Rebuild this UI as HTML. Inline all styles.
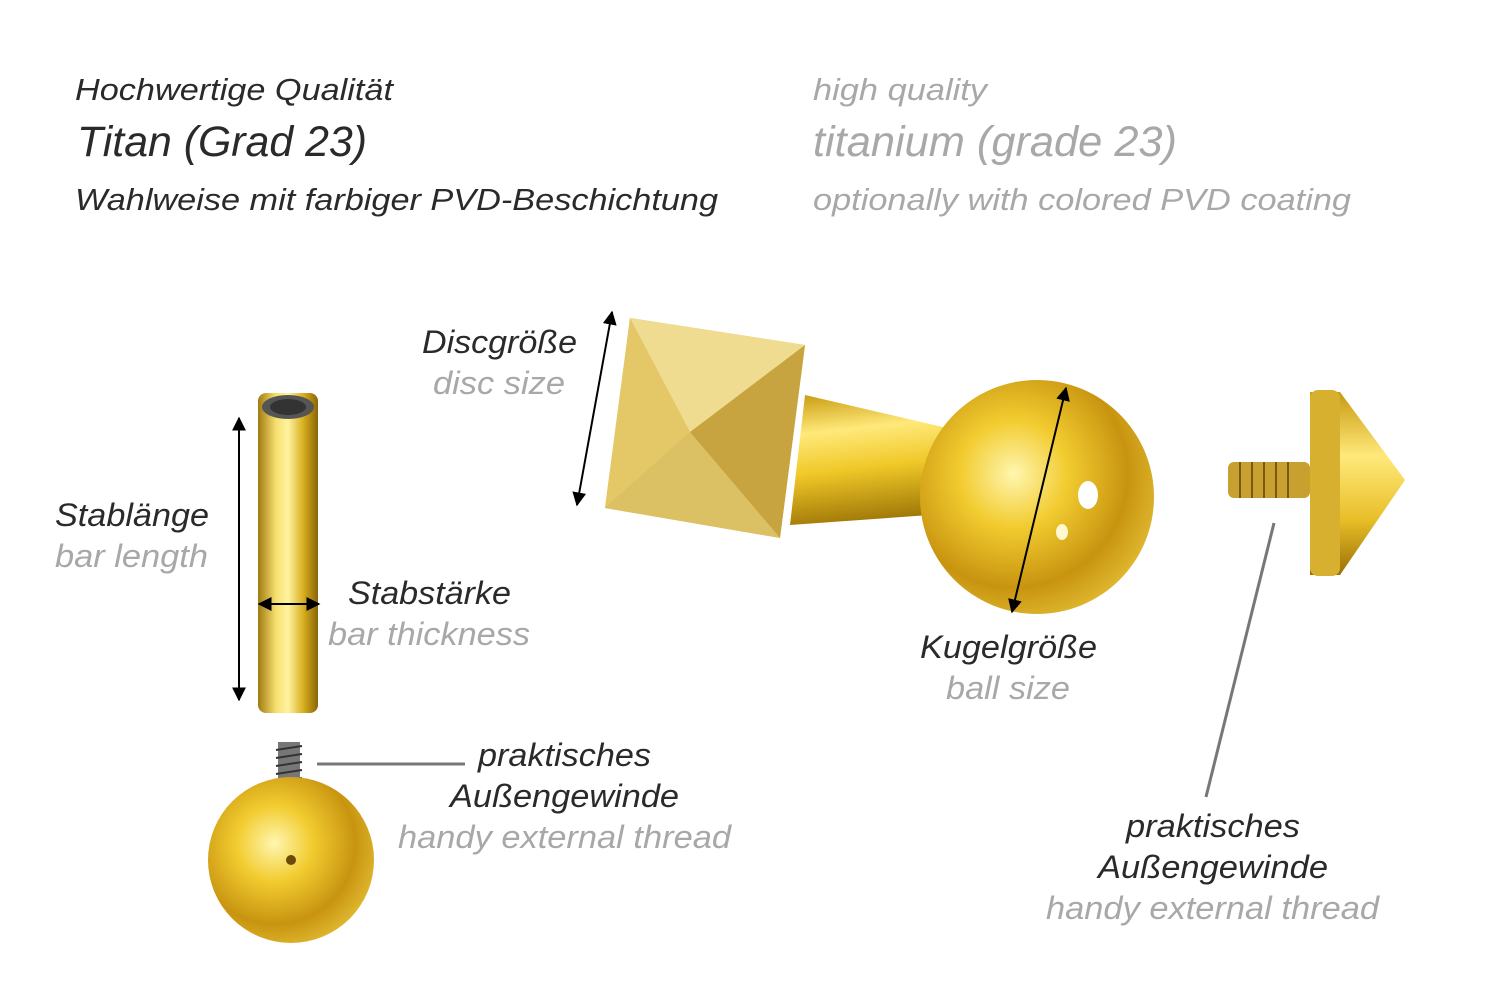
<!DOCTYPE html>
<html><head><meta charset="utf-8"><style>
html,body{margin:0;padding:0;background:#fff;width:1500px;height:1001px;overflow:hidden}
svg{display:block}
text{font-family:"Liberation Sans",sans-serif;font-style:italic}
.d{fill:#2a2a2a}.l{fill:#a8a8a8}
</style></head><body>
<svg width="1500" height="1001" viewBox="0 0 1500 1001" xmlns="http://www.w3.org/2000/svg">
<defs>
<linearGradient id="gx" x1="0" x2="1" y1="0" y2="0">
<stop offset="0" stop-color="#a07a10"/><stop offset=".3" stop-color="#f6e070"/><stop offset=".5" stop-color="#fff3a0"/><stop offset=".75" stop-color="#d9b020"/><stop offset="1" stop-color="#8a6508"/></linearGradient>
<linearGradient id="gy" x1="0" x2="0" y1="0" y2="1">
<stop offset="0" stop-color="#c89a10"/><stop offset=".35" stop-color="#ffe97a"/><stop offset=".7" stop-color="#e8be28"/><stop offset="1" stop-color="#9a7008"/></linearGradient>
<linearGradient id="gs" x1="0" x2="0.2" y1="0" y2="1">
<stop offset="0" stop-color="#c89a10"/><stop offset=".3" stop-color="#ffe97a"/><stop offset=".6" stop-color="#f0c828"/><stop offset="1" stop-color="#a07808"/></linearGradient>
<radialGradient id="gb" cx=".4" cy=".4" r=".65">
<stop offset="0" stop-color="#fff6b0"/><stop offset=".35" stop-color="#f2cc30"/><stop offset=".75" stop-color="#c89410"/><stop offset="1" stop-color="#e0b830"/></radialGradient>
<marker id="a" viewBox="0 0 10 10" refX="9" refY="5" markerWidth="7" markerHeight="7" orient="auto-start-reverse"><path d="M0,0L10,5L0,10z" fill="#000"/></marker>
</defs>

<g lengthAdjust="spacingAndGlyphs">
<text x="75" y="100" font-size="31" class="d" textLength="318" lengthAdjust="spacingAndGlyphs">Hochwertige Qualität</text>
<text x="77" y="156" font-size="43" class="d" textLength="290" lengthAdjust="spacingAndGlyphs">Titan (Grad 23)</text>
<text x="75" y="210" font-size="31" class="d" textLength="643" lengthAdjust="spacingAndGlyphs">Wahlweise mit farbiger PVD-Beschichtung</text>
<text x="813" y="100" font-size="31" class="l" textLength="174" lengthAdjust="spacingAndGlyphs">high quality</text>
<text x="813" y="156" font-size="43" class="l" textLength="364" lengthAdjust="spacingAndGlyphs">titanium (grade 23)</text>
<text x="813" y="210" font-size="31" class="l" textLength="538" lengthAdjust="spacingAndGlyphs">optionally with colored PVD coating</text>
</g>

<!-- bar -->
<rect x="258" y="393" width="60" height="320" rx="8" fill="url(#gx)"/>
<ellipse cx="288" cy="407" rx="26" ry="12" fill="#555"/>
<ellipse cx="288" cy="407" rx="18" ry="8" fill="#333"/>
<line x1="239" y1="418" x2="239" y2="700" stroke="#000" stroke-width="2" marker-start="url(#a)" marker-end="url(#a)"/>
<line x1="259" y1="604" x2="319" y2="604" stroke="#000" stroke-width="2" marker-start="url(#a)" marker-end="url(#a)"/>
<text x="55" y="526" font-size="32" class="d" textLength="154" lengthAdjust="spacingAndGlyphs">Stablänge</text>
<text x="55" y="567" font-size="32" class="l" textLength="153" lengthAdjust="spacingAndGlyphs">bar length</text>
<text x="348" y="604" font-size="32" class="d" textLength="163" lengthAdjust="spacingAndGlyphs">Stabstärke</text>
<text x="328" y="645" font-size="32" class="l" textLength="202" lengthAdjust="spacingAndGlyphs">bar thickness</text>

<!-- small ball with thread -->
<rect x="278" y="742" width="22" height="58" fill="#777"/>
<g stroke="#333" stroke-width="2"><line x1="276" y1="750" x2="302" y2="746"/><line x1="276" y1="758" x2="302" y2="754"/><line x1="276" y1="766" x2="302" y2="762"/><line x1="276" y1="774" x2="302" y2="770"/><line x1="276" y1="782" x2="302" y2="778"/><line x1="276" y1="790" x2="302" y2="786"/></g>
<circle cx="291" cy="860" r="83" fill="url(#gb)"/>
<circle cx="291" cy="860" r="5" fill="#6a4a08"/>
<line x1="317" y1="764" x2="465" y2="764" stroke="#777" stroke-width="3"/>
<text x="478" y="766" font-size="32" class="d" textLength="173" lengthAdjust="spacingAndGlyphs">praktisches</text>
<text x="450" y="807" font-size="32" class="d" textLength="229" lengthAdjust="spacingAndGlyphs">Außengewinde</text>
<text x="398" y="848" font-size="32" class="l" textLength="333" lengthAdjust="spacingAndGlyphs">handy external thread</text>

<!-- main piece -->
<polygon points="805,395 1020,445 1020,505 1000,510 790,525" fill="url(#gs)"/>
<ellipse cx="1010" cy="475" rx="18" ry="45" fill="#c89a10"/>
<circle cx="1037" cy="497" r="117" fill="url(#gb)"/>
<ellipse cx="1088" cy="495" rx="10" ry="14" fill="#fff"/>
<ellipse cx="1062" cy="532" rx="6" ry="8" fill="#fff8d0"/>
<polygon points="630,318 805,345 780,538 605,508" fill="#d8bc58"/>
<polygon points="630,318 690,432 605,508" fill="#e4c868"/>
<polygon points="690,432 805,345 780,538" fill="#c8a440"/>
<polygon points="630,318 805,345 690,432" fill="#f0dc90"/>
<polygon points="605,508 690,432 780,538" fill="#dcc064"/>
<line x1="612" y1="312" x2="577" y2="505" stroke="#000" stroke-width="2" marker-start="url(#a)" marker-end="url(#a)"/>
<line x1="1066" y1="388" x2="1012" y2="612" stroke="#000" stroke-width="2" marker-start="url(#a)" marker-end="url(#a)"/>
<text x="422" y="353" font-size="32" class="d" textLength="155" lengthAdjust="spacingAndGlyphs">Discgröße</text>
<text x="433" y="394" font-size="32" class="l" textLength="132" lengthAdjust="spacingAndGlyphs">disc size</text>
<text x="920" y="658" font-size="32" class="d" textLength="177" lengthAdjust="spacingAndGlyphs">Kugelgröße</text>
<text x="946" y="699" font-size="32" class="l" textLength="124" lengthAdjust="spacingAndGlyphs">ball size</text>

<!-- small pyramid top -->
<rect x="1228" y="462" width="82" height="36" rx="6" fill="#c8a030"/>
<g stroke="#7a5a10" stroke-width="2"><line x1="1240" y1="462" x2="1240" y2="498"/><line x1="1252" y1="462" x2="1252" y2="498"/><line x1="1264" y1="462" x2="1264" y2="498"/><line x1="1276" y1="462" x2="1276" y2="498"/><line x1="1288" y1="462" x2="1288" y2="498"/></g>
<polygon points="1310,392 1340,392 1405,480 1340,575 1310,575" fill="url(#gy)"/>
<rect x="1310" y="390" width="30" height="186" rx="8" fill="#d8b030"/>
<line x1="1274" y1="523" x2="1206" y2="797" stroke="#777" stroke-width="3"/>
<text x="1126" y="837" font-size="32" class="d" textLength="174" lengthAdjust="spacingAndGlyphs">praktisches</text>
<text x="1098" y="878" font-size="32" class="d" textLength="230" lengthAdjust="spacingAndGlyphs">Außengewinde</text>
<text x="1046" y="919" font-size="32" class="l" textLength="333" lengthAdjust="spacingAndGlyphs">handy external thread</text>
</svg>
</body></html>
